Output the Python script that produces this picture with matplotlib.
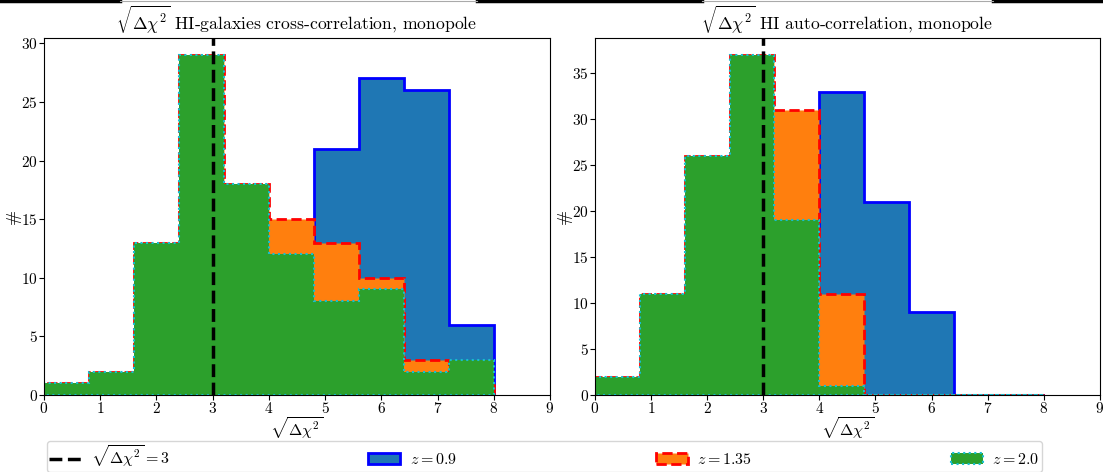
import numpy as np
import matplotlib
matplotlib.use("Agg")
import matplotlib.pyplot as plt
import matplotlib.patches as mpatches
from matplotlib.lines import Line2D

plt.rcParams['font.family'] = 'serif'
plt.rcParams['font.serif'] = ['cmr10']
plt.rcParams['mathtext.fontset'] = 'cm'
plt.rcParams['axes.formatter.use_mathtext'] = True

# bins in sqrt(Delta chi^2)
bin_edges = np.linspace(0, 8, 11)
bin_mid = 0.5 * (bin_edges[:-1] + bin_edges[1:])

# HI-galaxies cross-correlation counts per bin
cross_z09 = [0, 0, 0, 1, 5, 12, 21, 27, 26, 6]
cross_z135 = [1, 2, 13, 29, 18, 15, 13, 10, 3, 1]
cross_z20 = [1, 2, 13, 29, 18, 12, 8, 9, 2, 3]

# HI auto-correlation counts per bin
auto_z09 = [0, 0, 0, 3, 18, 33, 21, 9, 0, 0]
auto_z135 = [2, 11, 26, 37, 31, 11, 0, 0, 0, 0]
auto_z20 = [2, 11, 26, 37, 19, 1, 0, 0, 0, 0]

redshifts = ['0.9', '1.35', '2.0']
threshold = 3

styles = [
    dict(facecolor='#1f77b4', edgecolor='blue', linestyle='-', lw=2),
    dict(facecolor='#ff7f0e', edgecolor='red', linestyle='--', lw=2),
    dict(facecolor='#2ca02c', edgecolor='#17becf', linestyle=':', lw=1.5),
]

panels = [
    (r'$\sqrt{\Delta\chi^2}$ HI-galaxies cross-correlation, monopole',
     [cross_z09, cross_z135, cross_z20]),
    (r'$\sqrt{\Delta\chi^2}$ HI auto-correlation, monopole',
     [auto_z09, auto_z135, auto_z20]),
]

fig = plt.figure(figsize=(11.03, 4.72), dpi=100)
ax1 = fig.add_axes([0.0399, 0.1631, 0.4587, 0.7564])
ax2 = fig.add_axes([0.5394, 0.1631, 0.4578, 0.7564])

for ax, (title, counts) in zip([ax1, ax2], panels):
    for c, st in zip(counts, styles):
        ax.hist(bin_mid, bins=bin_edges, weights=c, histtype='stepfilled', **st)
    ax.axvline(threshold, color='k', ls='--', lw=2.5)
    ax.set_xlim(0, 9)
    ax.set_xticks(range(10))
    ax.set_title(title, fontsize=12.7)
    ax.set_xlabel(r'$\sqrt{\Delta\chi^2}$', fontsize=11.5, labelpad=-1)
    ax.set_ylabel('#', fontsize=13, labelpad=0)
    ax.tick_params(labelsize=11, pad=1)

handles = [Line2D([], [], color='k', ls='--', lw=2.5)]
handles += [mpatches.Patch(**st) for st in styles]
labels = [r'$\sqrt{\Delta\chi^2}=%d$' % threshold] + [r'$z=$' + z for z in redshifts]
fig.legend(handles, labels, loc='upper left', ncol=4, mode='expand',
           bbox_to_anchor=(47 / 1103, 1 - 441 / 472, 995 / 1103, 0),
           borderaxespad=0, borderpad=0.15, handletextpad=0.6, fontsize=11.5)

# strip along the top edge
y_top = 1 - 1.2 / 472
for x0, x1 in [(0, 120), (477, 702), (993, 1103)]:
    fig.add_artist(Line2D([x0 / 1103, x1 / 1103], [y_top, y_top], color='k', lw=2.5))
for x0, x1 in [(120, 477), (702, 993)]:
    fig.add_artist(Line2D([x0 / 1103, x1 / 1103], [1 - 0.5 / 472] * 2, color='#aaaaaa', lw=0.8))

fig.savefig('out.png', dpi=100)
